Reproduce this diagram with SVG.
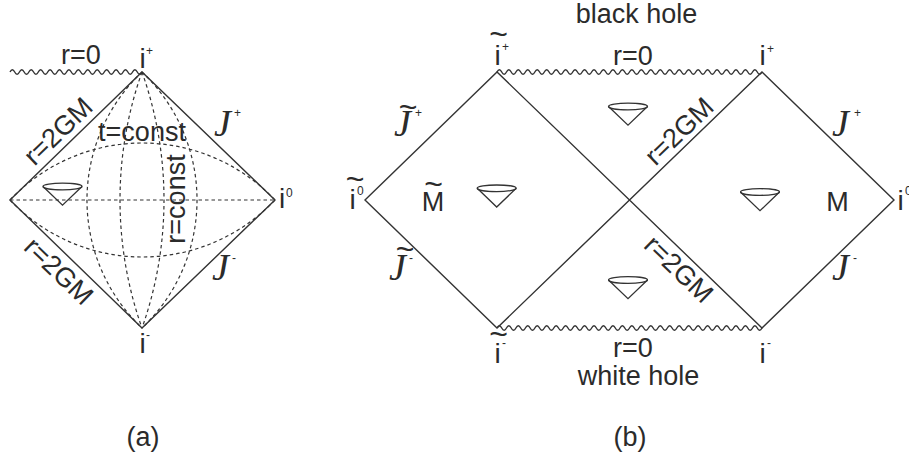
<svg xmlns="http://www.w3.org/2000/svg" width="909" height="454" viewBox="0 0 909 454">
<style>
.ln{fill:none;stroke:#333;stroke-width:1.4;stroke-linejoin:miter}
.wv{fill:none;stroke:#333;stroke-width:1.4}
.ds{fill:none;stroke:#333;stroke-width:1.2;stroke-dasharray:3.5 3}
.tc{font-family:"Liberation Sans",Arial,sans-serif;font-size:27px;fill:#2b2b2b;text-anchor:middle}
.ti{font-family:"Liberation Sans",Arial,sans-serif;font-size:28px;fill:#2b2b2b;text-anchor:middle}
.sup{font-family:"Liberation Sans",Arial,sans-serif;font-size:12px;fill:#2b2b2b}
.tl{font-family:"Liberation Sans",Arial,sans-serif;font-size:32px;fill:#2b2b2b;text-anchor:middle}
.J{font-family:"Liberation Serif","Times New Roman",serif;font-style:italic;font-size:38px;fill:#2b2b2b}
</style>
<defs>
<g id="cone">
<path d="M-19.5,0 L0,18.7 L19.5,0" style="fill:none;stroke:#333;stroke-width:1.3"/>
<ellipse cx="0" cy="0" rx="19.5" ry="3.3" style="fill:none;stroke:#333;stroke-width:1.3"/>
</g>
</defs>
<rect width="909" height="454" fill="#fff"/>

<g id="diagram-a">
<g id="a-dashed">
<path class="ds" d="M10,200 L275,200"/>
<path class="ds" d="M10,200 A182.5,182.5 0 0 1 275,200"/>
<path class="ds" d="M10,200 A182.5,182.5 0 0 0 275,200"/>
<path class="ds" d="M142,72 A176.4,176.4 0 0 0 142,328"/>
<path class="ds" d="M142,72 A176.4,176.4 0 0 1 142,328"/>
<path class="ds" d="M142,72 A383.4,383.4 0 0 0 142,328"/>
<path class="ds" d="M142,72 A383.4,383.4 0 0 1 142,328"/>
</g>
<g id="a-edges">
<path class="ln" d="M10,200 L142,72 L275,200 L142,328 Z"/>
<path class="wv" d="M10,72 q2.357,-4.5 4.714,0 t4.714,0 t4.714,0 t4.714,0 t4.714,0 t4.714,0 t4.714,0 t4.714,0 t4.714,0 t4.714,0 t4.714,0 t4.714,0 t4.714,0 t4.714,0 t4.714,0 t4.714,0 t4.714,0 t4.714,0 t4.714,0 t4.714,0 t4.714,0 t4.714,0 t4.714,0 t4.714,0 t4.714,0 t4.714,0 t4.714,0 t4.714,0"/>
</g>
<use href="#cone" x="62.5" y="186.5"/>
<g id="a-labels">
<text class="tc" x="81" y="64">r=0</text>
<text class="ti" x="142.5" y="68">i</text><text class="sup" x="146" y="55">+</text>
<text class="ti" x="142.5" y="353">i</text><text class="sup" x="146" y="338.5">-</text>
<text class="ti" x="282" y="208">i</text><text class="sup" x="286" y="197">0</text>
<text class="J" x="214" y="136">J</text><text class="sup" x="234" y="116.5">+</text>
<text class="J" x="212" y="280">J</text><text class="sup" x="232" y="261.5">-</text>
<text class="tc" transform="translate(64.5,137.7) rotate(-44)">r=2GM</text>
<text class="tc" transform="translate(52.5,277.7) rotate(44)">r=2GM</text>
<text class="tc" x="142" y="141">t=const</text>
<text class="tc" transform="translate(185,199) rotate(-90)">r=const</text>
<text class="tc" x="143" y="446">(a)</text>
</g>
</g>

<g id="diagram-b">
<g id="b-edges">
<path class="ln" d="M365,200 L497,72 L762,328 L894,200 L762,72 L497,328 Z"/>
<path class="wv" d="M497,72 q2.366,-4.5 4.732,0 t4.732,0 t4.732,0 t4.732,0 t4.732,0 t4.732,0 t4.732,0 t4.732,0 t4.732,0 t4.732,0 t4.732,0 t4.732,0 t4.732,0 t4.732,0 t4.732,0 t4.732,0 t4.732,0 t4.732,0 t4.732,0 t4.732,0 t4.732,0 t4.732,0 t4.732,0 t4.732,0 t4.732,0 t4.732,0 t4.732,0 t4.732,0 t4.732,0 t4.732,0 t4.732,0 t4.732,0 t4.732,0 t4.732,0 t4.732,0 t4.732,0 t4.732,0 t4.732,0 t4.732,0 t4.732,0 t4.732,0 t4.732,0 t4.732,0 t4.732,0 t4.732,0 t4.732,0 t4.732,0 t4.732,0 t4.732,0 t4.732,0 t4.732,0 t4.732,0 t4.732,0 t4.732,0 t4.732,0 t4.732,0"/>
<path class="wv" d="M497,328 q2.366,-4.5 4.732,0 t4.732,0 t4.732,0 t4.732,0 t4.732,0 t4.732,0 t4.732,0 t4.732,0 t4.732,0 t4.732,0 t4.732,0 t4.732,0 t4.732,0 t4.732,0 t4.732,0 t4.732,0 t4.732,0 t4.732,0 t4.732,0 t4.732,0 t4.732,0 t4.732,0 t4.732,0 t4.732,0 t4.732,0 t4.732,0 t4.732,0 t4.732,0 t4.732,0 t4.732,0 t4.732,0 t4.732,0 t4.732,0 t4.732,0 t4.732,0 t4.732,0 t4.732,0 t4.732,0 t4.732,0 t4.732,0 t4.732,0 t4.732,0 t4.732,0 t4.732,0 t4.732,0 t4.732,0 t4.732,0 t4.732,0 t4.732,0 t4.732,0 t4.732,0 t4.732,0 t4.732,0 t4.732,0 t4.732,0 t4.732,0"/>
</g>
<use href="#cone" x="496.7" y="188.3"/>
<use href="#cone" x="760" y="192"/>
<use href="#cone" x="628" y="106.5"/>
<use href="#cone" x="628" y="280"/>
<g id="b-labels">
<text class="tc" x="636.5" y="22.7">black hole</text>
<text class="tc" x="633" y="65">r=0</text>
<text class="tc" x="633" y="357">r=0</text>
<text class="tc" x="638.5" y="385">white hole</text>
<text class="tl" x="498.5" y="45">~</text><text class="ti" x="497.5" y="65">i</text><text class="sup" x="502" y="50.5">+</text>
<text class="ti" x="762.5" y="65">i</text><text class="sup" x="767" y="52.5">+</text>
<text class="tl" x="498.5" y="345">~</text><text class="ti" x="497.5" y="363">i</text><text class="sup" x="502" y="347">-</text>
<text class="ti" x="762.5" y="363">i</text><text class="sup" x="767" y="347">-</text>
<text class="tl" x="355" y="190">~</text><text class="ti" x="352.5" y="209">i</text><text class="sup" x="357" y="194.5">0</text>
<text class="ti" x="900.5" y="210">i</text><text class="sup" x="905" y="195">0</text>
<text class="tl" x="433.5" y="195">~</text><text class="tc" x="433" y="211">M</text>
<text class="tc" x="837.5" y="211">M</text>
<text class="tl" x="408" y="118">~</text><text class="J" x="394" y="136">J</text><text class="sup" x="415" y="116.5">+</text>
<text class="tl" x="405" y="260">~</text><text class="J" x="389" y="280">J</text><text class="sup" x="409" y="261.5">-</text>
<text class="J" x="832" y="136">J</text><text class="sup" x="854" y="116.5">+</text>
<text class="J" x="832" y="280">J</text><text class="sup" x="853" y="261.5">-</text>
<text class="tc" transform="translate(685.5,137.7) rotate(-44)">r=2GM</text>
<text class="tc" transform="translate(672.5,275.7) rotate(44)">r=2GM</text>
<text class="tc" x="630" y="446">(b)</text>
</g>
</g>
</svg>
